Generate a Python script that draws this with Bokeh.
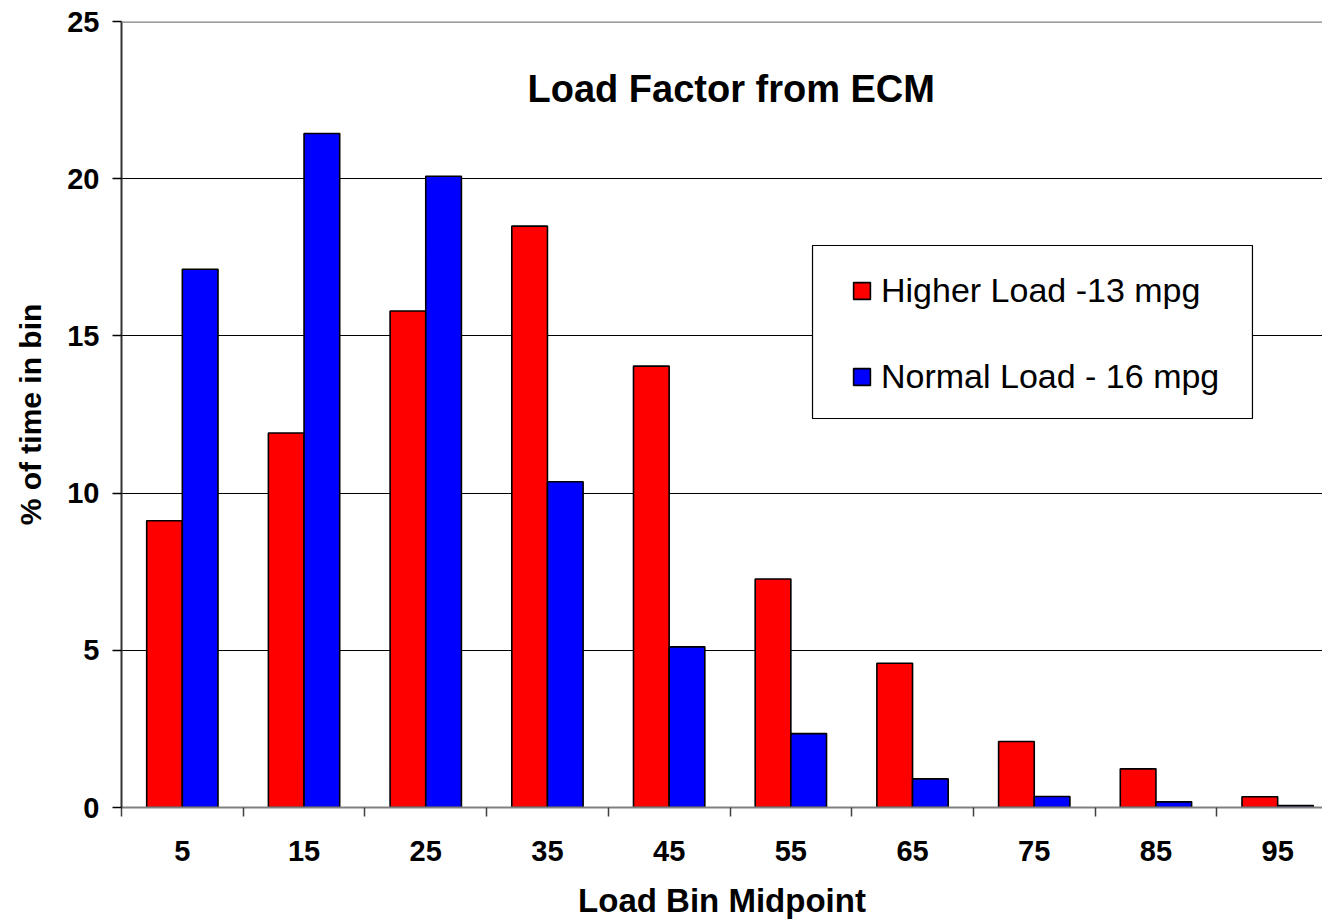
from bokeh.plotting import figure
from bokeh.models import (ColumnDataSource, FixedTicker, Span, BoxAnnotation,
                          Label, Legend, LegendItem, Range1d)
from bokeh.transform import dodge
from bokeh.embed import file_html
from bokeh.resources import INLINE
import numpy as np

# Load bins (midpoints, %) and share of time spent in each bin
bins = [5, 15, 25, 35, 45, 55, 65, 75, 85, 95]
higher_load = [9.12, 11.91, 15.79, 18.49, 14.04, 7.27, 4.59, 2.10, 1.23, 0.34]
normal_load = [17.12, 21.44, 20.08, 10.36, 5.11, 2.35, 0.91, 0.35, 0.18, 0.06]
y_ticks = [0, 5, 10, 15, 20, 25]

series_names = ["Higher Load -13 mpg", "Normal Load - 16 mpg"]
series_colors = ["#FF0000", "#0000FF"]

FONT = "Liberation Sans"

pos = np.arange(len(bins)) + 0.5
src = ColumnDataSource(dict(pos=pos, bins=bins, higher=higher_load, normal=normal_load))

p = figure(width=1322, height=922, output_backend="svg", toolbar_location=None,
           x_range=Range1d(0, 1201 / 121.7), y_range=Range1d(0, 25),
           min_border_left=121, min_border_right=0, min_border_top=21,
           min_border_bottom=115)
p.outline_line_color = None
p.background_fill_color = "white"
p.border_fill_color = "white"

bar_w = 0.293
r_hi = p.vbar(x=dodge("pos", -bar_w / 2, range=p.x_range), top="higher", width=bar_w,
              source=src, fill_color=series_colors[0], line_color="black", line_width=1.6)
r_no = p.vbar(x=dodge("pos", bar_w / 2, range=p.x_range), top="normal", width=bar_w,
              source=src, fill_color=series_colors[1], line_color="black", line_width=1.6)

# Horizontal grid lines; the top edge of the plot area is a grey border
p.xgrid.visible = False
p.ygrid.ticker = FixedTicker(ticks=y_ticks[1:-1])
p.ygrid.grid_line_color = "black"
p.ygrid.grid_line_width = 1
p.add_layout(Span(location=y_ticks[-1], dimension="width", line_color="#808080",
                  line_width=2.5))

# X axis: labels at bin centres, tick marks at bin boundaries
xa = p.xaxis[0]
xa.ticker = FixedTicker(ticks=list(pos), minor_ticks=list(np.arange(len(bins) + 1)))
xa.major_label_overrides = {float(c): str(b) for c, b in zip(pos, bins)}
xa.major_tick_line_color = None
xa.minor_tick_line_color = "#404040"
xa.minor_tick_line_width = 1.5
xa.minor_tick_out = 9
xa.minor_tick_in = 0
xa.axis_line_color = "#808080"
xa.axis_line_width = 2
xa.major_label_text_font = FONT
xa.major_label_text_font_style = "bold"
xa.major_label_text_font_size = "29px"
xa.major_label_text_color = "black"
xa.major_label_standoff = 24
xa.axis_label = "Load Bin Midpoint"
xa.axis_label_text_font = FONT
xa.axis_label_text_font_style = "bold"
xa.axis_label_text_font_size = "33px"
xa.axis_label_text_color = "black"
xa.axis_label_standoff = 18

ya = p.yaxis[0]
ya.ticker = FixedTicker(ticks=y_ticks)
ya.minor_tick_line_color = None
ya.major_tick_out = 9
ya.major_tick_in = 0
ya.major_tick_line_color = "black"
ya.major_tick_line_width = 1.5
ya.axis_line_color = "#333333"
ya.axis_line_width = 2
ya.major_label_text_font = FONT
ya.major_label_text_font_style = "bold"
ya.major_label_text_font_size = "29px"
ya.major_label_text_color = "black"
ya.major_label_standoff = 13
ya.axis_label = "% of time in bin"
ya.axis_label_text_font = FONT
ya.axis_label_text_font_style = "bold"
ya.axis_label_text_font_size = "30px"
ya.axis_label_text_color = "black"
ya.axis_label_standoff = 17

# Chart title inside the plot area
p.add_layout(Label(x=5.01, y=22.84, text="Load Factor from ECM", text_align="center",
                   text_baseline="middle", text_font=FONT, text_font_style="bold",
                   text_font_size="38px", text_color="black"))

# Legend frame and entries
p.add_layout(BoxAnnotation(left=5.678, right=9.293, top=17.875, bottom=12.373,
                           fill_color="white", fill_alpha=1, line_color="black",
                           line_alpha=1, line_width=1.2, level="annotation"))
legend = Legend(items=[LegendItem(label=series_names[0], renderers=[r_hi]),
                       LegendItem(label=series_names[1], renderers=[r_no])],
                location=(730, 411), orientation="vertical",
                background_fill_alpha=0, border_line_color=None,
                padding=0, margin=0, spacing=46,
                glyph_width=21, glyph_height=21, label_height=40,
                label_standoff=9, label_text_font=FONT,
                label_text_font_size="34px", label_text_color="black")
p.add_layout(legend)

open("out.html", "w").write(file_html(p, INLINE))
